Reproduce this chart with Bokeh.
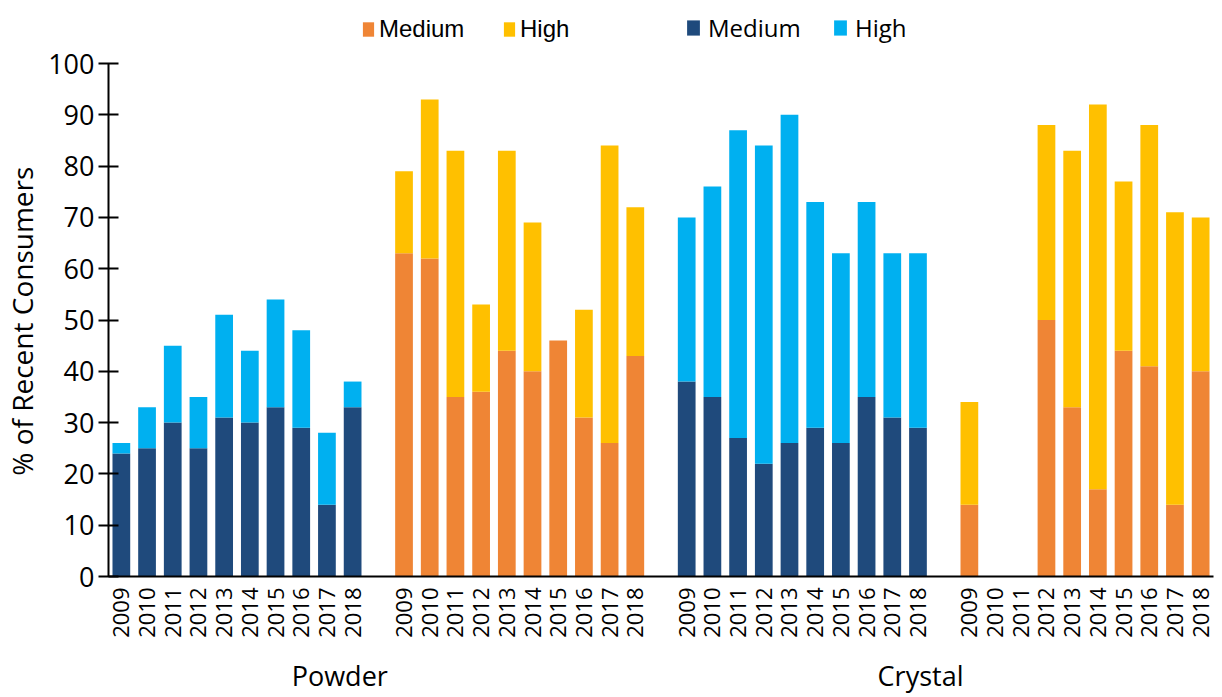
import math
from bokeh.plotting import figure
from bokeh.models import (ColumnDataSource, FixedTicker, LinearAxis, Range1d,
                          Legend, LegendItem)
from bokeh.embed import file_html
from bokeh.resources import INLINE

# ---------------- data ----------------
years = ["2009", "2010", "2011", "2012", "2013", "2014", "2015", "2016", "2017", "2018"]
group_names = ["Powder", "Crystal"]

powder_blue_medium = [24, 25, 30, 25, 31, 30, 33, 29, 14, 33]
powder_blue_high = [2, 8, 15, 10, 20, 14, 21, 19, 14, 5]

powder_orange_medium = [63, 62, 35, 36, 44, 40, 46, 31, 26, 43]
powder_orange_high = [16, 31, 48, 17, 39, 29, 0, 21, 58, 29]

crystal_blue_medium = [38, 35, 27, 22, 26, 29, 26, 35, 31, 29]
crystal_blue_high = [32, 41, 60, 62, 64, 44, 37, 38, 32, 34]

crystal_orange_medium = [14, 0, 0, 50, 33, 17, 44, 41, 14, 40]
crystal_orange_high = [20, 0, 0, 38, 50, 75, 33, 47, 57, 30]

y_ticks = [0, 10, 20, 30, 40, 50, 60, 70, 80, 90, 100]

# ---------------- styling ----------------
DARK_BLUE = "#1F4A7C"
LIGHT_BLUE = "#00B0F0"
ORANGE = "#EF8535"
YELLOW = "#FFC000"
FONT = "Open Sans"

series = [
    (powder_blue_medium, powder_blue_high, DARK_BLUE, LIGHT_BLUE),
    (powder_orange_medium, powder_orange_high, ORANGE, YELLOW),
    (crystal_blue_medium, crystal_blue_high, DARK_BLUE, LIGHT_BLUE),
    (crystal_orange_medium, crystal_orange_high, ORANGE, YELLOW),
]

n = len(years)
slot = n + 1  # one empty slot between blocks
n_slots = len(series) * slot - 1

W, H = 1222, 697
BORDER_BOTTOM = 121
FRAME_H = H - BORDER_BOTTOM
Y_TOP_PX = 63  # pixel where 100 sits
y_end = 100 * FRAME_H / (FRAME_H - Y_TOP_PX)

p = figure(width=W, height=H, output_backend="svg", toolbar_location=None,
           x_range=Range1d(-0.5, n_slots - 0.5), y_range=Range1d(0, y_end),
           min_border_left=104, min_border_right=9, min_border_top=0,
           min_border_bottom=BORDER_BOTTOM, tools="")
p.outline_line_color = None
p.xgrid.grid_line_color = None
p.ygrid.grid_line_color = None
p.background_fill_color = "white"
p.border_fill_color = "white"

renderers = []
all_x = []
labels = {}
for g, (med, high, c_med, c_high) in enumerate(series):
    xs = [g * slot + i for i in range(n)]
    all_x += xs
    for x, yr in zip(xs, years):
        labels[x] = yr
    total = [m + h for m, h in zip(med, high)]
    src = ColumnDataSource(dict(x=xs, med=med, total=total))
    r1 = p.vbar(x="x", top="med", bottom=0, width=0.69, source=src,
                fill_color=c_med, line_color=None)
    r2 = p.vbar(x="x", top="total", bottom="med", width=0.69, source=src,
                fill_color=c_high, line_color=None)
    renderers.append((r1, r2))

# ---- y axis ----
ya = p.yaxis[0]
ya.bounds = (0, 100)
ya.ticker = FixedTicker(ticks=y_ticks)
ya.axis_line_width = 2
ya.axis_line_color = "black"
ya.major_tick_line_width = 2
ya.major_tick_line_color = "black"
ya.major_tick_in = 10
ya.major_tick_out = 10
ya.minor_tick_line_color = None
ya.major_label_text_font = FONT
ya.major_label_text_font_size = "27px"
ya.major_label_text_color = "black"
ya.major_label_standoff = 4
# trailing no-break spaces shift the centred title down to the middle of 0..100
ya.axis_label = "% of Recent Consumers" + "\u00a0" * 9
ya.axis_label_text_font = FONT
ya.axis_label_text_font_size = "28px"
ya.axis_label_text_font_style = "normal"
ya.axis_label_text_color = "black"
ya.axis_label_standoff = 4

# ---- x axis (years) ----
xa = p.xaxis[0]
xa.ticker = FixedTicker(ticks=all_x)
xa.major_label_overrides = labels
xa.major_label_orientation = math.pi / 2
xa.major_label_text_font = FONT
xa.major_label_text_font_size = "22px"
xa.major_label_text_color = "black"
xa.major_label_standoff = 11
xa.axis_line_width = 2
xa.axis_line_color = "black"
xa.major_tick_line_color = None
xa.major_tick_out = 0
xa.major_tick_in = 0
xa.minor_tick_line_color = None

# ---- group labels axis ----
group_label_x = [8.5, 31.1]
ga = LinearAxis(ticker=FixedTicker(ticks=group_label_x),
                major_label_overrides={x: nm for x, nm in zip(group_label_x, group_names)})
ga.axis_line_color = None
ga.major_tick_line_color = None
ga.major_tick_out = 0
ga.major_tick_in = 0
ga.minor_tick_line_color = None
ga.major_label_text_font = FONT
ga.major_label_text_font_size = "27px"
ga.major_label_text_color = "black"
ga.major_label_standoff = 16
p.add_layout(ga, "below")

# ---- legends (two groups, as in the reference) ----
def add_legend(label, renderer, x_px, font, size, gw, gh, standoff):
    leg = Legend(items=[LegendItem(label=label, renderers=[renderer])],
                 location=(x_px, FRAME_H - 25 - gh), orientation="horizontal",
                 padding=0, margin=0, spacing=0,
                 border_line_color=None, background_fill_alpha=0,
                 glyph_width=gw, glyph_height=gh, label_height=gh,
                 label_standoff=standoff,
                 label_text_font=font, label_text_font_size=size,
                 label_text_color="black")
    p.add_layout(leg, "center")

FL = 109  # frame left, plus legend inner offset
add_legend("Medium", renderers[1][0], 362 - FL, "Liberation Sans", "24px", 14, 18, 4)
add_legend("High", renderers[1][1], 503 - FL, "Liberation Sans", "24px", 14, 18, 4)
add_legend("Medium", renderers[0][0], 686 - FL, FONT, "24px", 16, 19, 7)
add_legend("High", renderers[0][1], 833 - FL, FONT, "24px", 16, 19, 7)

open("out.html", "w").write(file_html(p, INLINE))
